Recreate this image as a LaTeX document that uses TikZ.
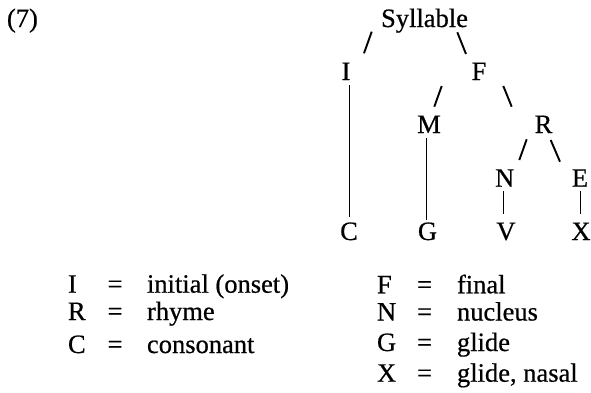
\documentclass[tikz,border=0pt]{standalone}
\usepackage{fontspec}
\setmainfont{Liberation Serif}[FakeBold=0.6]
\usetikzlibrary{calc}
\begin{document}
\begin{tikzpicture}[x=1pt,y=-1pt,
  lab/.style={inner sep=0pt,outer sep=0pt,anchor=base,font=\fontsize{26.5}{30}\selectfont},
  labw/.style={lab,anchor=base west},
  slash/.style={line width=1.9pt},
  stem/.style={line width=0.9pt}]
\useasboundingbox (0,0) rectangle (591,392);
% example number
\node[labw] (num) at (7,27) {(7)};
% tree nodes
\node[lab] (syl) at (424.5,27) {Syllable};
\node[lab] (I) at (346,80) {I};
\node[lab] (F) at (479,80) {F};
\node[lab] (M) at (429,133) {M};
\node[lab] (R) at (543.5,133) {R};
\node[lab] (N) at (504.7,186.7) {N};
\node[lab] (E) at (580,186.7) {E};
\node[lab] (C) at (349,240) {C};
\node[lab] (G) at (427.5,240) {G};
\node[lab] (V) at (506,240) {V};
\node[lab] (X) at (581,240) {X};
% slashes
\draw[slash] ($(syl.base)+(-52.8,4.7)$) -- ($(syl.base)+(-60.5,26.3)$);
\draw[slash] ($(syl.base)+(32.8,5.3)$) -- ($(syl.base)+(41.5,27)$);
\draw[slash] ($(F.base)+(-37.3,6)$) -- ($(F.base)+(-44.7,26.7)$);
\draw[slash] ($(F.base)+(24.3,6)$) -- ($(F.base)+(32.7,26.7)$);
\draw[slash] ($(R.base)+(-16.8,6.3)$) -- ($(R.base)+(-24.2,27)$);
\draw[slash] ($(R.base)+(7.2,7)$) -- ($(R.base)+(16.5,28.7)$);
% vertical stems
\draw[stem] ($(I.base -| C.base)+(0,5)$) -- ($(C.base)+(0,-23.3)$);
\draw[stem] ($(M.base -| G.base)+(-0.8,5)$) -- ($(G.base)+(-0.8,-20)$);
\draw[stem] ($(N.base)+(-1.4,4.3)$) -- ($(N.base |- V.base)+(-1.4,-26)$);
\draw[stem] ($(E.base)+(0.7,4.3)$) -- ($(E.base |- X.base)+(0.7,-26)$);
% legend, left column
\node[labw] (kI) at (68,292.7) {I};
\node[lab]  (eI) at (115,292.7) {=};
\node[labw] (tI) at (147,292.7) {initial (onset)};
\node[labw] (kR) at (68,320) {R};
\node[lab]  (eR) at (115,320) {=};
\node[labw] (tR) at (147,320) {rhyme};
\node[labw] (kC) at (68,353) {C};
\node[lab]  (eC) at (115,353) {=};
\node[labw] (tC) at (147,353) {consonant};
% legend, right column
\node[labw] (kF) at (377,293.3) {F};
\node[lab]  (eF) at (424.5,293.3) {=};
\node[labw] (tF) at (457,293.3) {final};
\node[labw] (kN) at (377,320.5) {N};
\node[lab]  (eN) at (424.5,320.5) {=};
\node[labw] (tN) at (457,320.5) {nucleus};
\node[labw] (kG) at (377,351) {G};
\node[lab]  (eG) at (424.5,351) {=};
\node[labw] (tG) at (457,351) {glide};
\node[labw] (kX) at (377,381.7) {X};
\node[lab]  (eX) at (424.5,381.7) {=};
\node[labw] (tX) at (457,381.7) {glide, nasal};
\end{tikzpicture}
\end{document}
